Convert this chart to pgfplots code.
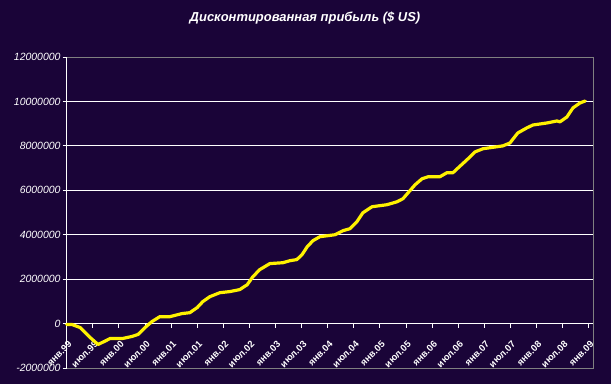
\documentclass[border=0pt]{standalone}
\usepackage{fontspec}
\setmainfont{Liberation Sans}
\usepackage{pgfplots}
\pgfplotsset{compat=1.18}
\definecolor{bg}{RGB}{26,4,56}
\definecolor{frame}{RGB}{128,128,128}
\begin{document}
\begin{tikzpicture}[x=1bp,y=1bp]
\fill[bg] (-66.7,-16) rectangle (544.3,368);
\useasboundingbox (-66.7,-16) rectangle (544.3,368);
\node[white, font=\bfseries\itshape\fontsize{13}{15}\selectfont] at (238.3,350) {Дисконтированная прибыль (\$ US)};
\begin{axis}[
  at={(0,0)}, anchor=south west, scale only axis,
  width=526.3bp, height=311bp,
  xmin=0, xmax=121, ymin=-2000000, ymax=12000000,
  axis x line*=middle, axis y line*=left,
  enlarge x limits=false, enlarge y limits=false,
  scaled y ticks=false, scaled x ticks=false,
  x axis line style={-, white, line width=0.8pt},
  y axis line style={-, white, line width=0.8pt},
  hide obscured x ticks=false, hide obscured y ticks=false,
  xtick={0,6,...,120},
  xticklabels={янв.99,июл.99,янв.00,июл.00,янв.01,июл.01,янв.02,июл.02,янв.03,июл.03,янв.04,июл.04,янв.05,июл.05,янв.06,июл.06,янв.07,июл.07,янв.08,июл.08,янв.09},
  ytick={-2000000,0,2000000,4000000,6000000,8000000,10000000,12000000},
  yticklabels={-2000000,0,2000000,4000000,6000000,8000000,10000000,12000000},
  xtick align=outside, ytick align=outside,
  major tick length=4bp,
  tick style={white, line width=0.8pt},
  ymajorgrids, grid style={white, line width=0.8pt},
  yticklabel style={white, font=\itshape\fontsize{10.5}{12}\selectfont, inner sep=2bp},
  xticklabel style={white, font=\bfseries\fontsize{9.5}{11}\selectfont, rotate=45, anchor=east, inner sep=1bp, xshift=-7bp, yshift=-13bp},
  clip=false,
]
\draw[frame, line width=0.8pt] (rel axis cs:0,0) -- (rel axis cs:1,0) -- (rel axis cs:1,1) -- (rel axis cs:0,1);
\addplot[yellow, line width=3.2pt, line join=round, line cap=round] table {
0 -40000
1.2 -40000
3.1 -180000
5.4 -630000
7.2 -940000
8.6 -810000
10.0 -670000
12.9 -670000
15.0 -580000
16.4 -490000
18.0 -180000
19.6 90000
21.4 310000
23.7 310000
26.5 450000
28.3 490000
30.0 720000
31.3 990000
32.9 1210000
35.2 1390000
37.5 1440000
39.8 1530000
41.5 1750000
42.8 2110000
44.4 2430000
46.7 2700000
49.7 2740000
51.3 2830000
52.9 2880000
54.1 3100000
55.3 3460000
56.6 3730000
58.2 3910000
61.7 4000000
63.5 4180000
65.1 4270000
66.7 4580000
68.1 4990000
70.2 5260000
73.6 5350000
75.9 5480000
77.3 5620000
78.5 5890000
80.1 6250000
81.7 6520000
83.1 6610000
85.8 6610000
87.4 6790000
88.8 6790000
90.0 7010000
92.0 7370000
93.9 7730000
95.7 7870000
98.9 7960000
100.3 8000000
101.9 8130000
103.7 8580000
105.8 8810000
107.2 8940000
110.4 9030000
112.7 9120000
113.4 9080000
115.0 9300000
116.4 9710000
118.0 9930000
119.2 10020000
};
\end{axis}
\end{tikzpicture}
\end{document}
